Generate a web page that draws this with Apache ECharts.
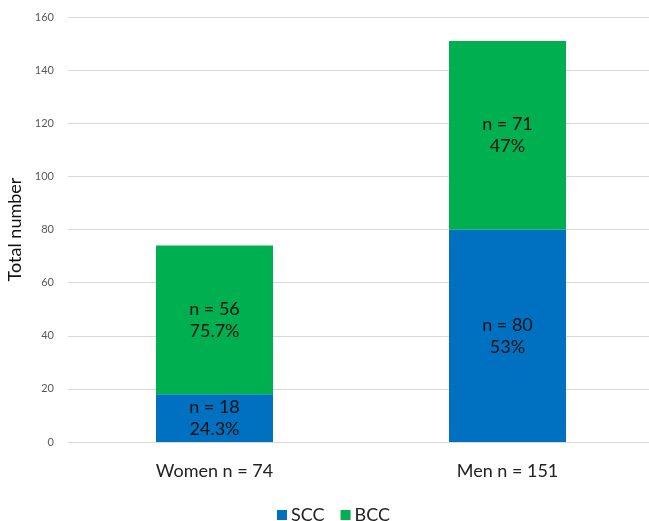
<!DOCTYPE html>
<html>
<head>
<meta charset="utf-8">
<script src="https://cdn.jsdelivr.net/npm/echarts@6/dist/echarts.min.js"></script>
<style>
  html, body { margin: 0; padding: 0; background: #fff; }
  #chart { width: 649px; height: 521px; }
</style>
</head>
<body>
<div id="chart"></div>
<script>
const categories = ["Women n = 74", "Men n = 151"]
const sccCounts = [18, 80]
const bccCounts = [56, 71]
const sccPct = ["24.3%", "53%"]
const bccPct = ["75.7%", "47%"]
const yTicks = { min: 0, max: 160, interval: 20 }

const font = "Lato, 'Open Sans', sans-serif"

function labelFor(pcts) {
  return {
    show: true,
    position: "inside",
    color: "#111",
    fontFamily: font,
    fontSize: 18,
    lineHeight: 22,
    formatter: p => "n = " + p.value + "\n" + pcts[p.dataIndex]
  }
}

const chart = echarts.init(document.getElementById("chart"))
chart.setOption({
  animation: false,
  backgroundColor: "#fff",
  grid: { left: 68, right: -5, top: 17, bottom: 79, outerBoundsMode: "none", containLabel: false },
  legend: {
    top: 501,
    left: 272,
    itemWidth: 10,
    itemHeight: 10,
    itemGap: 16,
    icon: "rect",
    textStyle: { fontFamily: font, fontSize: 18, color: "#222", padding: [0, 0, 0, -1] },
    data: ["SCC", "BCC"]
  },
  xAxis: {
    type: "category",
    data: categories,
    axisLine: { lineStyle: { color: "#d9d9d9" } },
    axisTick: { show: false },
    axisLabel: { fontFamily: font, fontSize: 18, color: "#222", margin: 20 }
  },
  yAxis: {
    type: "value",
    min: yTicks.min,
    max: yTicks.max,
    interval: yTicks.interval,
    name: "Total number",
    nameLocation: "middle",
    nameGap: 36,
    nameTextStyle: { fontFamily: font, fontSize: 18, color: "#111" },
    axisLine: { show: false },
    axisTick: { show: false },
    axisLabel: { fontFamily: font, fontSize: 11, color: "#595959", margin: 14 },
    splitLine: { lineStyle: { color: "#d9d9d9" } }
  },
  series: [
    {
      name: "SCC",
      type: "bar",
      stack: "total",
      barWidth: 117,
      itemStyle: { color: "#0070C0" },
      label: labelFor(sccPct),
      data: sccCounts
    },
    {
      name: "BCC",
      type: "bar",
      stack: "total",
      barWidth: 117,
      itemStyle: { color: "#00B050" },
      label: labelFor(bccPct),
      data: bccCounts
    }
  ]
})
</script>
</body>
</html>
